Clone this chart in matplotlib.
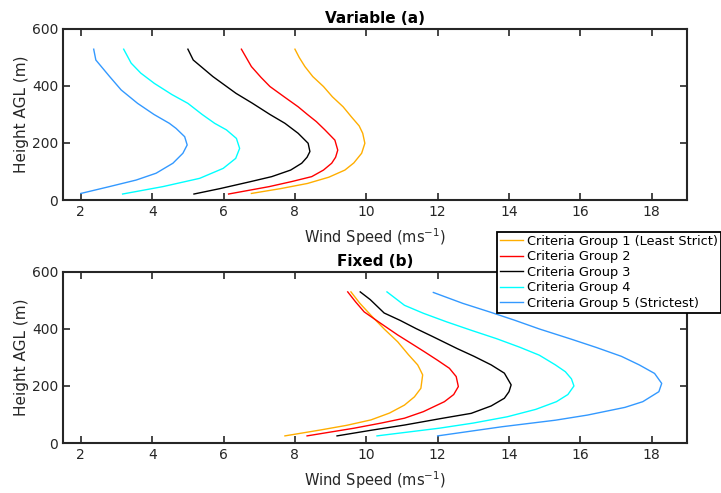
import numpy as np
import matplotlib.pyplot as plt

plt.rcParams['font.family'] = ['DejaVu Sans']

labels = ['Criteria Group 1 (Least Strict)', 'Criteria Group 2', 'Criteria Group 3',
          'Criteria Group 4', 'Criteria Group 5 (Strictest)']
colors = ['#FFAE00', '#FF0000', '#000000', '#00FFFF', '#3399FF']

# Variable (a): heights (m) and wind speeds (m/s)
var_z1 = [23, 40, 58, 80, 105, 130, 164, 199, 234, 260, 292, 327, 362, 398, 433, 468, 500, 529]
var_u1 = [6.78, 7.6, 8.35, 8.95, 9.4, 9.65, 9.87, 9.96, 9.9, 9.8, 9.58, 9.35, 9.05, 8.8, 8.5, 8.28, 8.12, 8.0]
var_z2 = [21, 47, 65, 82, 105, 129, 150, 175, 210, 246, 275, 300, 327, 360, 398, 430, 468, 529]
var_u2 = [6.14, 7.28, 7.92, 8.47, 8.8, 9.03, 9.14, 9.2, 9.12, 8.84, 8.6, 8.35, 8.09, 7.72, 7.3, 7.05, 6.78, 6.5]
var_z3 = [21, 40, 64, 82, 105, 129, 150, 170, 199, 234, 269, 300, 340, 374, 433, 491, 529]
var_u3 = [5.17, 5.9, 6.74, 7.35, 7.88, 8.19, 8.34, 8.42, 8.37, 8.09, 7.72, 7.3, 6.8, 6.35, 5.7, 5.15, 5.0]
var_z4 = [21, 47, 76, 111, 146, 181, 216, 246, 269, 300, 339, 370, 409, 445, 480, 529]
var_u4 = [3.17, 4.3, 5.33, 5.99, 6.34, 6.45, 6.36, 6.08, 5.75, 5.4, 5.0, 4.55, 4.06, 3.68, 3.41, 3.2]
var_z5 = [23, 47, 70, 94, 129, 164, 193, 222, 251, 269, 300, 339, 386, 434, 491, 529]
var_u5 = [2.0, 2.8, 3.55, 4.11, 4.58, 4.86, 4.98, 4.91, 4.67, 4.48, 4.05, 3.59, 3.13, 2.8, 2.42, 2.36]

# Fixed (b)
fix_z1 = [25, 46, 62, 81, 105, 133, 162, 192, 239, 262, 274, 310, 355, 400, 448, 490, 530]
fix_u1 = [7.72, 8.73, 9.45, 10.13, 10.65, 11.07, 11.35, 11.53, 11.58, 11.49, 11.44, 11.18, 10.88, 10.5, 10.13, 9.82, 9.57]
fix_z2 = [25, 52, 70, 87, 110, 145, 170, 198, 233, 262, 290, 320, 350, 379, 420, 460, 495, 530]
fix_u2 = [8.34, 9.66, 10.42, 11.07, 11.6, 12.19, 12.45, 12.58, 12.52, 12.33, 12.0, 11.63, 11.25, 10.88, 10.4, 9.94, 9.7, 9.48]
fix_z3 = [25, 45, 63, 86, 104, 130, 157, 180, 204, 245, 274, 304, 331, 374, 401, 430, 456, 503, 530]
fix_u3 = [9.18, 10.15, 11.07, 12.1, 12.94, 13.5, 13.87, 14.0, 14.06, 13.87, 13.5, 13.02, 12.55, 11.85, 11.4, 10.95, 10.5, 10.11, 9.83]
fix_z4 = [25, 52, 70, 92, 118, 145, 170, 200, 225, 250, 274, 308, 336, 366, 395, 425, 455, 483, 530]
fix_u4 = [10.3, 12.05, 13.0, 13.95, 14.75, 15.33, 15.65, 15.82, 15.75, 15.58, 15.3, 14.85, 14.3, 13.65, 12.95, 12.25, 11.6, 11.07, 10.58]
fix_z5 = [25, 57, 80, 98, 125, 145, 180, 209, 244, 274, 304, 335, 364, 400, 431, 460, 490, 528]
fix_u5 = [12.0, 13.8, 15.3, 16.2, 17.25, 17.75, 18.2, 18.28, 18.08, 17.65, 17.15, 16.45, 15.75, 14.85, 14.15, 13.45, 12.7, 11.88]

panels = [('Variable (a)', [(var_u1, var_z1), (var_u2, var_z2), (var_u3, var_z3), (var_u4, var_z4), (var_u5, var_z5)]),
          ('Fixed (b)', [(fix_u1, fix_z1), (fix_u2, fix_z2), (fix_u3, fix_z3), (fix_u4, fix_z4), (fix_u5, fix_z5)])]

fig = plt.figure(figsize=(7.21, 4.93), dpi=100)
ax_rects = [[0.0874, 0.5943, 0.866, 0.347], [0.0874, 0.1014, 0.866, 0.347]]
dark = '#262626'

handles = []
for rect, (title, series) in zip(ax_rects, panels):
    ax = fig.add_axes(rect)
    for (u, z), c, lab in zip(series, colors, labels):
        ln, = ax.plot(u, z, color=c, lw=1.0, label=lab)
        if title.startswith('Fixed'):
            handles.append(ln)
    ax.set_xlim(1.5, 19)
    ax.set_ylim(0, 600)
    ax.set_xticks(np.arange(2, 19, 2))
    ax.set_yticks([0, 200, 400, 600])
    ax.tick_params(direction='in', top=True, right=True, length=5, width=1.2,
                   colors=dark, labelsize=10, labelcolor=dark)
    for sp in ax.spines.values():
        sp.set_linewidth(1.5)
        sp.set_color(dark)
    ax.set_title(title, fontsize=11, fontweight='bold', pad=4)
    ax.set_xlabel('Wind Speed (ms$^{\\mathregular{-1}}$)', fontsize=10.5, color=dark, labelpad=5)
    ax.set_ylabel('Height AGL (m)', fontsize=11, color=dark, labelpad=2)

leg = fig.legend(handles, labels, loc='upper left', bbox_to_anchor=(497 / 721, 1 - 232 / 493),
                 fontsize=9.3, frameon=True, fancybox=False, borderaxespad=0,
                 handlelength=1.8, handletextpad=0.35, labelspacing=0.2, borderpad=0.2)
leg.get_frame().set_edgecolor('black')
leg.get_frame().set_linewidth(1.3)
leg.get_frame().set_alpha(1)

fig.savefig('out.png', dpi=100)
